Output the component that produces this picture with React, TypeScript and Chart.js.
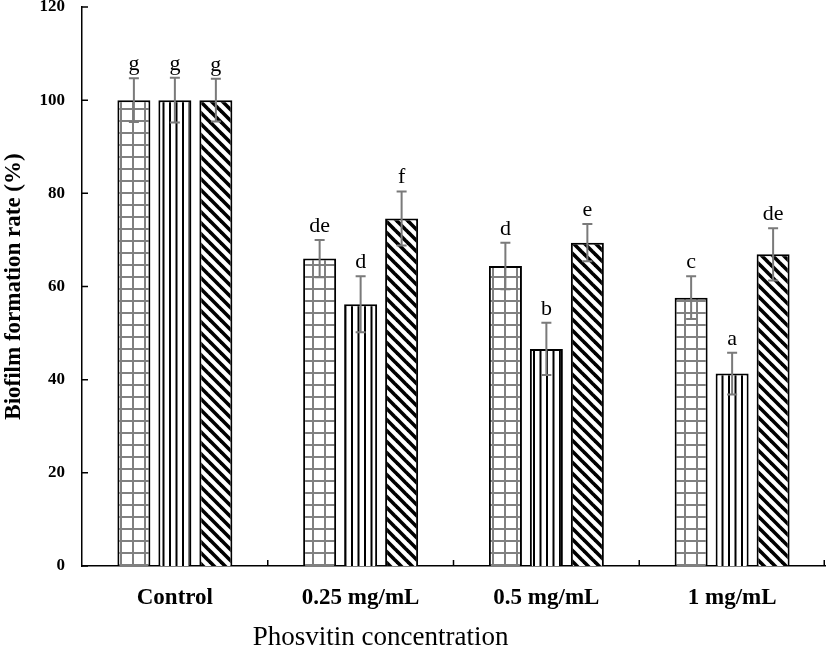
import React, { useEffect, useRef } from 'react';
import { Chart, registerables } from 'chart.js';

Chart.register(...registerables);

const categories = ['Control', '0.25 mg/mL', '0.5 mg/mL', '1 mg/mL'];
const seriesGrid = [100, 66.0, 64.4, 57.6];
const seriesVertical = [100, 56.2, 46.6, 41.3];
const seriesDiagonal = [100, 74.6, 69.4, 66.9];
const errGrid = [4.7, 4.0, 5.0, 4.6];
const errVertical = [4.8, 6.0, 5.6, 4.5];
const errDiagonal = [4.6, 5.8, 4.0, 5.6];
const lettersGrid = ['g', 'de', 'd', 'c'];
const lettersVertical = ['g', 'd', 'b', 'a'];
const lettersDiagonal = ['g', 'f', 'e', 'de'];
const yTitle = 'Biofilm formation rate (%)';
const xTitle = 'Phosvitin concentration';

const FONT = '"Liberation Serif", "Times New Roman", serif';

function makePattern(kind: string): CanvasPattern | string {
  const c = document.createElement('canvas');
  const g = c.getContext('2d');
  if (!g) return '#fff';
  if (kind === 'grid') {
    c.width = 12; c.height = 12;
    g.fillStyle = '#fff'; g.fillRect(0, 0, 12, 12);
    g.fillStyle = '#808080';
    g.fillRect(0, 0, 2, 12);
    g.fillRect(0, 0, 12, 2);
  } else if (kind === 'vertical') {
    c.width = 13; c.height = 4;
    g.fillStyle = '#fff'; g.fillRect(0, 0, 13, 4);
    g.fillStyle = '#000';
    g.fillRect(0, 0, 2, 4);
    g.fillRect(6.5, 0, 2, 4);
  } else {
    const s = 11;
    c.width = s; c.height = s;
    g.fillStyle = '#fff'; g.fillRect(0, 0, s, s);
    g.strokeStyle = '#000';
    g.lineWidth = 3.6;
    for (const k of [-s, 0, s]) {
      g.beginPath();
      g.moveTo(k - 2, -2);
      g.lineTo(k + s + 2, s + 2);
      g.stroke();
    }
  }
  return g.createPattern(c, 'repeat') || '#fff';
}

const errorSets = [errGrid, errVertical, errDiagonal];
const letterSets = [lettersGrid, lettersVertical, lettersDiagonal];

const errorBarPlugin = {
  id: 'errorBars',
  afterDatasetsDraw(chart: any) {
    const ctx = chart.ctx;
    const yScale = chart.scales.y;
    chart.data.datasets.forEach((ds: any, d: number) => {
      const meta = chart.getDatasetMeta(d);
      meta.data.forEach((bar: any, i: number) => {
        const v = ds.data[i];
        const e = errorSets[d][i];
        const top = yScale.getPixelForValue(v + e);
        const bot = yScale.getPixelForValue(v - e);
        const x = bar.x;
        ctx.save();
        ctx.strokeStyle = '#7a7a7a';
        ctx.lineWidth = 2;
        ctx.beginPath();
        ctx.moveTo(x, top); ctx.lineTo(x, bot);
        ctx.moveTo(x - 5, top); ctx.lineTo(x + 5, top);
        ctx.moveTo(x - 5, bot); ctx.lineTo(x + 5, bot);
        ctx.stroke();
        ctx.fillStyle = '#000';
        ctx.font = `22px ${FONT}`;
        ctx.textAlign = 'center';
        ctx.textBaseline = 'alphabetic';
        ctx.fillText(letterSets[d][i], x, top - 8);
        ctx.restore();
      });
    });
  },
};

const axisDecorPlugin = {
  id: 'axisDecor',
  afterDraw(chart: any) {
    const ctx = chart.ctx;
    const { left, right, bottom } = chart.chartArea;
    const xScale = chart.scales.x;
    const yScale = chart.scales.y;
    ctx.save();
    ctx.strokeStyle = '#000';
    ctx.lineWidth = 1.5;
    ctx.beginPath();
    yScale.ticks.forEach((t: any) => {
      const py = yScale.getPixelForValue(t.value);
      ctx.moveTo(left, py); ctx.lineTo(left + 6, py);
    });
    const half = (xScale.getPixelForValue(1) - xScale.getPixelForValue(0)) / 2;
    categories.forEach((_c, i) => {
      const px = Math.min(xScale.getPixelForValue(i) + half, right - 0.75);
      ctx.moveTo(px, bottom); ctx.lineTo(px, bottom - 6);
    });
    ctx.stroke();
    ctx.fillStyle = '#000';
    ctx.font = `27px ${FONT}`;
    ctx.textAlign = 'center';
    ctx.textBaseline = 'middle';
    ctx.fillText(xTitle, left + (right - left) * 0.402, chart.height - 14);
    ctx.restore();
  },
};

export default function App() {
  const ref = useRef<HTMLCanvasElement>(null);
  useEffect(() => {
    document.body.style.margin = '0';
    const canvas = ref.current;
    if (!canvas) return;
    const chart = new Chart(canvas, {
      type: 'bar',
      data: {
        labels: categories,
        datasets: [
          { label: 'A', data: seriesGrid, backgroundColor: makePattern('grid') as any, borderColor: '#000', borderWidth: 2 },
          { label: 'B', data: seriesVertical, backgroundColor: makePattern('vertical') as any, borderColor: '#000', borderWidth: 2 },
          { label: 'C', data: seriesDiagonal, backgroundColor: makePattern('diagonal') as any, borderColor: '#000', borderWidth: 2 },
        ],
      },
      options: {
        responsive: false,
        animation: false,
        layout: { padding: { top: 7, right: 2, left: 0, bottom: 0 } },
        datasets: { bar: { categoryPercentage: 0.662, barPercentage: 0.805 } },
        plugins: { legend: { display: false }, tooltip: { enabled: false } },
        scales: {
          x: {
            grid: { display: false, drawTicks: false },
            border: { display: true, color: '#000', width: 1.5 },
            ticks: { color: '#000', font: { family: FONT, size: 23, weight: 'bold' }, padding: 18 },
            afterFit(scale: any) { scale.height = 86; scale.paddingLeft = 0; scale.paddingRight = 0; },
          },
          y: {
            min: 0,
            max: 120,
            ticks: { stepSize: 20, color: '#000', font: { family: FONT, size: 17, weight: 'bold' }, padding: 17 },
            grid: { display: false, drawTicks: false },
            border: { display: true, color: '#000', width: 1.5 },
            title: { display: true, text: yTitle, color: '#000', font: { family: FONT, size: 23, weight: 'bold' }, padding: { top: 0, bottom: 0 } },
            afterFit(scale: any) { scale.width = 82; scale.paddingTop = 0; scale.paddingBottom = 0; },
          },
        },
      },
      plugins: [errorBarPlugin, axisDecorPlugin],
    });
    return () => chart.destroy();
  }, []);
  return (
    <div style={{ width: 827, height: 652 }}>
      <canvas ref={ref} width={827} height={652} style={{ display: 'block' }} />
    </div>
  );
}
